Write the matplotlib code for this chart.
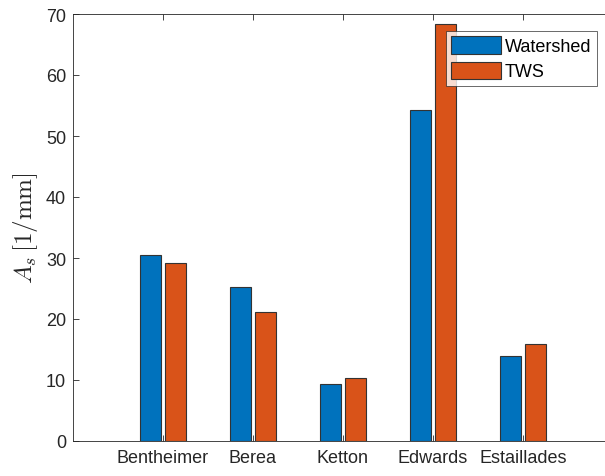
import numpy as np
import matplotlib.pyplot as plt

plt.rcParams['font.family'] = ['Liberation Sans', 'DejaVu Sans']
plt.rcParams['mathtext.fontset'] = 'cm'

# specific surface area per rock sample
samples = ['Bentheimer', 'Berea', 'Ketton', 'Edwards', 'Estaillades']
watershed = [30.5, 25.2, 9.35, 54.2, 13.9]
tws = [29.1, 21.1, 10.4, 68.4, 15.95]

W, H = 605, 477
fig = plt.figure(figsize=(W / 100, H / 100), dpi=100)
ax = fig.add_axes([73 / W, 35 / H, 540 / W, 427 / H])

x = np.arange(1, len(samples) + 1)
bw = 0.235
off = 0.142
ax.bar(x - off, watershed, bw, color='#0072BD', edgecolor='#333333', linewidth=0.8, label='Watershed')
ax.bar(x + off, tws, bw, color='#D95319', edgecolor='#333333', linewidth=0.8, label='TWS')

ax.set_xlim(0, 6)
ax.set_ylim(0, 70)
ax.set_xticks(x)
ax.set_xticklabels(samples)
ax.set_yticks(np.arange(0, 71, 10))
ax.tick_params(axis='both', labelsize=13, colors='#262626', direction='in', length=4,
               top=True, right=True, width=0.6)
ax.tick_params(axis='x', pad=6)
ax.tick_params(axis='y', pad=5)
for sp in ax.spines.values():
    sp.set_color('#262626')
    sp.set_linewidth(0.6)

ax.set_ylabel(r'$A_s\,[1/\mathrm{mm}]$', fontsize=18, color='#262626', labelpad=4)

leg = ax.legend(loc='upper right', bbox_to_anchor=(597 / W, 1 - 32 / H),
                bbox_transform=fig.transFigure, fontsize=13, frameon=True,
                fancybox=False, borderaxespad=0, handlelength=2.8, handleheight=1.1,
                handletextpad=0.2, labelspacing=0.35, borderpad=0.3)
leg.get_frame().set_edgecolor('#262626')
leg.get_frame().set_linewidth(0.6)

fig.savefig('out.png', dpi=100)
